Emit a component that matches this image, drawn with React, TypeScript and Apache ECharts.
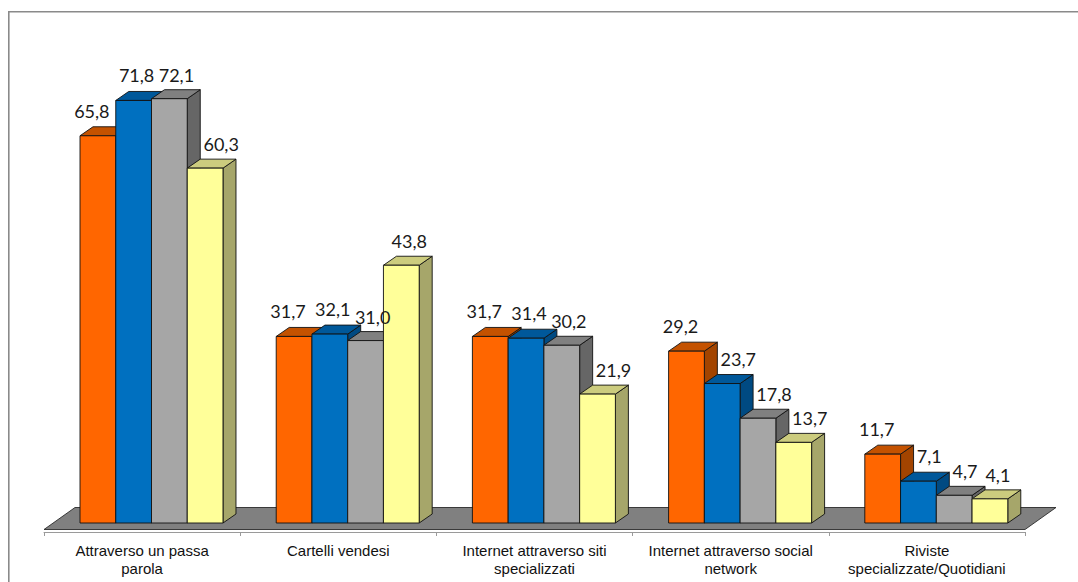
import React, { useEffect, useRef } from "react";
import * as echarts from "echarts";

// Categories shown along the floor of the chart
const categories = [
  "Attraverso un passa\nparola",
  "Cartelli vendesi",
  "Internet attraverso siti\nspecializzati",
  "Internet attraverso social\nnetwork",
  "Riviste\nspecializzate/Quotidiani",
];

// Four series, one per bar colour, in the order they stand in each group
const orangeValues = [65.8, 31.7, 31.7, 29.2, 11.7];
const blueValues = [71.8, 32.1, 31.4, 23.7, 7.1];
const grayValues = [72.1, 31.0, 30.2, 17.8, 4.7];
const yellowValues = [60.3, 43.8, 21.9, 13.7, 4.1];

const seriesValues = [orangeValues, blueValues, grayValues, yellowValues];

// Face colours of each 3D box: front, top, side
const palette = [
  { front: "#FF6600", top: "#C45200", side: "#A34400" },
  { front: "#0070C0", top: "#00589A", side: "#004A82" },
  { front: "#A6A6A6", top: "#808080", side: "#666666" },
  { front: "#FFFF99", top: "#CCCC7E", side: "#A6A66A" },
];

// Preferred value-label offsets (from the top of each box's front face)
const labelOffsets = [
  [-6, -25],
  [3, -25],
  [3, -24],
  [8, -24],
];

const BAR_RATIO = 0.1822; // one bar's width as a share of the category band
const FRONT_DX = 9.4; // front face pushed back into the floor
const FRONT_DY = -9;
const DEPTH_DX = 13; // box depth
const DEPTH_DY = 9;
const FLOOR_DX = 31;
const FLOOR_DY = 22;
const LABEL_FONT = 18;
const LABEL_GAP = 4;

const fmt = (v: number) => v.toFixed(1).replace(".", ",");
const textWidth = (s: string) => {
  let w = 0;
  for (const ch of s) w += ch === "," ? 0.25 : 0.58;
  return w * LABEL_FONT;
};

function boxGeometry(api: any, idx: number, si: number) {
  const v = seriesValues[si][idx];
  const base = api.coord([idx, 0]);
  const top = api.coord([idx, v]);
  const band = api.size([1, 0])[0];
  const w = band * BAR_RATIO;
  const x0 = base[0] - 2 * w + si * w + FRONT_DX;
  return { v, w, x0, x1: x0 + w, yb: base[1] + FRONT_DY, yt: top[1] + FRONT_DY };
}

// Places each label of a group left to right, nudging it clear of the
// taller box to its left and of the previous label.
function labelPosition(api: any, idx: number, si: number) {
  let prev: { l: number; r: number; t: number; b: number } | null = null;
  let out = { x: 0, y: 0 };
  for (let k = 0; k <= si; k++) {
    const g = boxGeometry(api, idx, k);
    const half = textWidth(fmt(g.v)) / 2;
    let x = g.x0 + g.w / 2 + labelOffsets[k][0];
    const y = g.yt + labelOffsets[k][1];
    if (k > 0) {
      const n = boxGeometry(api, idx, k - 1);
      const nTop = n.yt - DEPTH_DY;
      const sideRight = n.x1 + DEPTH_DX;
      if (y + 7 > nTop && x - half < sideRight + 3) x = sideRight + 3 + half;
    }
    if (prev && y - 8 < prev.b && y + 8 > prev.t && x - half < prev.r + LABEL_GAP) {
      x = prev.r + LABEL_GAP + half;
    }
    prev = { l: x - half, r: x + half, t: y - 8, b: y + 8 };
    out = { x, y };
  }
  return out;
}

function boxRenderer(si: number) {
  return (params: any, api: any) => {
    const idx = api.value(0);
    const g = boxGeometry(api, idx, si);
    const { x0, x1, yb, yt, w } = g;
    const c = palette[si];
    const edge = { stroke: "#111", lineWidth: 0.9, lineJoin: "round" };
    const lp = labelPosition(api, idx, si);
    return {
      type: "group",
      children: [
        {
          type: "polygon",
          shape: {
            points: [
              [x1, yt],
              [x1 + DEPTH_DX, yt - DEPTH_DY],
              [x1 + DEPTH_DX, yb - DEPTH_DY],
              [x1, yb],
            ],
          },
          style: { fill: c.side, ...edge },
        },
        {
          type: "polygon",
          shape: {
            points: [
              [x0, yt],
              [x0 + DEPTH_DX, yt - DEPTH_DY],
              [x1 + DEPTH_DX, yt - DEPTH_DY],
              [x1, yt],
            ],
          },
          style: { fill: c.top, ...edge },
        },
        {
          type: "rect",
          shape: { x: x0, y: yt, width: w, height: yb - yt },
          style: { fill: c.front, ...edge },
        },
        {
          type: "text",
          z2: 100,
          style: {
            x: lp.x,
            y: lp.y,
            text: fmt(api.value(1)),
            fill: "#1a1a1a",
            font: `${LABEL_FONT}px Lato, 'Open Sans', sans-serif`,
            align: "center",
            verticalAlign: "middle",
          },
        },
      ],
    };
  };
}

function floorRenderer(params: any, api: any) {
  const band = api.size([1, 0])[0];
  const first = api.coord([0, 0]);
  const last = api.coord([categories.length - 1, 0]);
  const left = first[0] - band / 2;
  const right = last[0] + band / 2;
  const yf = first[1] - 2.5;
  const yBack = first[1] - 2.5 - FLOOR_DY;
  return {
    type: "polygon",
    shape: {
      points: [
        [left, yf],
        [left + FLOOR_DX, yBack],
        [right + FLOOR_DX, yBack],
        [right, yf],
      ],
    },
    style: { fill: "#808080", stroke: "#2a2a2a", lineWidth: 0.9 },
  };
}

export default function App() {
  const ref = useRef<HTMLDivElement>(null);

  useEffect(() => {
    if (!ref.current) return;
    const chart = echarts.init(ref.current, undefined, { renderer: "svg" });
    const option: any = {
      animation: false,
      backgroundColor: "#ffffff",
      grid: { left: 44, right: 53, top: 61.2, bottom: 50 },
      xAxis: {
        type: "category",
        data: categories,
        boundaryGap: true,
        axisLine: { show: true, lineStyle: { color: "#9a9a9a", width: 1 } },
        axisTick: { show: true, length: 4, lineStyle: { color: "#9a9a9a" } },
        axisLabel: {
          interval: 0,
          margin: 9,
          color: "#111",
          fontSize: 15,
          lineHeight: 18,
          fontFamily: "'Liberation Sans', Arial, sans-serif",
        },
        splitLine: { show: false },
      },
      yAxis: { type: "value", min: 0, max: 80, show: false },
      graphic: [
        {
          type: "rect",
          silent: true,
          shape: { x: 8.8, y: 11.8, width: 1200, height: 700 },
          style: { fill: "none", stroke: "#8a8a8a", lineWidth: 1.6 },
        },
      ],
      series: [
        {
          type: "custom",
          name: "floor",
          renderItem: floorRenderer,
          data: [[0, 0]],
          encode: { x: 0, y: 1 },
          silent: true,
        },
        ...seriesValues.map((vals, si) => ({
          type: "custom",
          name: `s${si}`,
          renderItem: boxRenderer(si),
          data: vals.map((v, i) => [i, v]),
          encode: { x: 0, y: 1 },
        })),
      ],
    };
    chart.setOption(option);
    return () => chart.dispose();
  }, []);

  return (
    <div
      ref={ref}
      style={{ position: "absolute", left: 0, top: 0, width: 1078, height: 582 }}
    />
  );
}
